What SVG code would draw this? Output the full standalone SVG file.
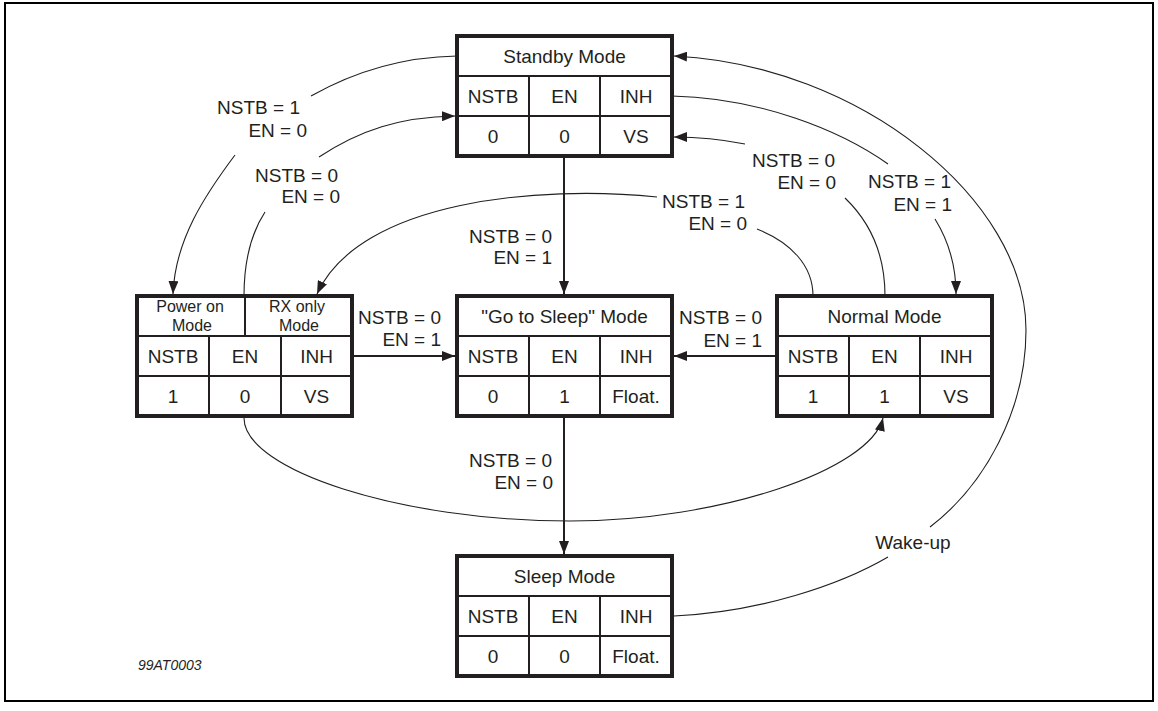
<svg xmlns="http://www.w3.org/2000/svg" width="1158" height="711" viewBox="0 0 1158 711">
<defs>
<style>
text{font-family:"Liberation Sans",Arial,sans-serif;font-size:19px;fill:#231f20}
.c{text-anchor:middle}
.e{text-anchor:end}
.s{font-size:16px}
.box{fill:#fff;stroke:#231f20;stroke-width:4}
.in{stroke:#231f20;stroke-width:2;fill:none}
.cv{fill:none;stroke:#231f20;stroke-width:1.1}
.st{fill:none;stroke:#231f20;stroke-width:2}
</style>
<marker id="ah" markerUnits="userSpaceOnUse" markerWidth="13" markerHeight="10" refX="13" refY="5" orient="auto">
<path d="M0,0 L13,5 L0,10 z" fill="#231f20"/>
</marker>
</defs>
<rect x="0" y="0" width="1158" height="711" fill="#fff"/>
<rect x="5" y="3" width="1148" height="698" fill="none" stroke="#000" stroke-width="2"/>

<g id="connectors">
<path class="cv" d="M457 56 C400 57,350 74,311 96"/>
<path class="cv" d="M235 155 C205 195,175 240,173 294" marker-end="url(#ah)"/>
<path class="cv" d="M244 296 C244 265,250 235,265 212"/>
<path class="cv" d="M319 157 C360 130,400 117,455 116" marker-end="url(#ah)"/>
<line class="st" x1="564" y1="158" x2="564" y2="294" marker-end="url(#ah)"/>
<path class="cv" d="M813 296 C813 265,790 242,757 229"/>
<path class="cv" d="M657 197 C540 185,360 200,317 294" marker-end="url(#ah)"/>
<path class="cv" d="M885 296 C885 255,870 222,845 198"/>
<path class="cv" d="M745 144 C725 140,700 137,674 137" marker-end="url(#ah)"/>
<path class="cv" d="M672 96 C760 98,840 130,888 164"/>
<path class="cv" d="M935 219 C948 240,956 265,956 294" marker-end="url(#ah)"/>
<line class="st" x1="354" y1="356" x2="455" y2="356" marker-end="url(#ah)"/>
<line class="st" x1="775" y1="356" x2="674" y2="356" marker-end="url(#ah)"/>
<line class="st" x1="564" y1="418" x2="564" y2="554" marker-end="url(#ah)"/>
<path class="cv" d="M244 418 C244 470,400 521,570 521 C720 521,870 470,883 418" marker-end="url(#ah)"/>
<path class="cv" d="M674 616 C760 612,840 585,888 557"/>
<path class="cv" d="M930 527 C985 485,1026 410,1026 330 C1026 200,860 65,674 56" marker-end="url(#ah)"/>
</g>

<g id="labels">
<text class="e" x="300" y="114">NSTB = 1</text>
<text class="e" x="307" y="137">EN = 0</text>
<text class="e" x="338" y="182">NSTB = 0</text>
<text class="e" x="340" y="203">EN = 0</text>
<text class="e" x="552" y="243">NSTB = 0</text>
<text class="e" x="552" y="264">EN = 1</text>
<text class="e" x="745" y="208">NSTB = 1</text>
<text class="e" x="747" y="230">EN = 0</text>
<text class="e" x="835" y="167">NSTB = 0</text>
<text class="e" x="836" y="189">EN = 0</text>
<text class="e" x="951" y="188">NSTB = 1</text>
<text class="e" x="952" y="211">EN = 1</text>
<text class="e" x="441" y="324">NSTB = 0</text>
<text class="e" x="441" y="346">EN = 1</text>
<text class="e" x="762" y="324">NSTB = 0</text>
<text class="e" x="762" y="347">EN = 1</text>
<text class="e" x="552" y="467">NSTB = 0</text>
<text class="e" x="553" y="489">EN = 0</text>
<text class="c" x="913" y="549">Wake-up</text>
<text x="138" y="670" style="font-size:14px;font-style:italic">99AT0003</text>
</g>

<g id="standby">
<rect class="box" x="457" y="36" width="215" height="120"/>
<path class="in" d="M457 76H672M457 116H672M529 76V156M600 76V156"/>
<text class="c" x="564.5" y="63">Standby Mode</text>
<text class="c" x="493" y="103">NSTB</text><text class="c" x="564.5" y="103">EN</text><text class="c" x="636" y="103">INH</text>
<text class="c" x="493" y="143">0</text><text class="c" x="564.5" y="143">0</text><text class="c" x="636" y="143">VS</text>
</g>

<g id="poweron">
<rect class="box" x="137" y="296" width="215" height="120"/>
<path class="in" d="M137 336H352M137 376H352M209 336V416M281 336V416M245 296V336"/>
<text class="c s" x="190" y="312">Power on</text>
<text class="c s" x="192" y="331">Mode</text>
<text class="c s" x="297" y="312">RX only</text>
<text class="c s" x="299" y="331">Mode</text>
<text class="c" x="173" y="363">NSTB</text><text class="c" x="245" y="363">EN</text><text class="c" x="316.5" y="363">INH</text>
<text class="c" x="173" y="403">1</text><text class="c" x="245" y="403">0</text><text class="c" x="316.5" y="403">VS</text>
</g>

<g id="gotosleep">
<rect class="box" x="457" y="296" width="215" height="120"/>
<path class="in" d="M457 336H672M457 376H672M529 336V416M600 336V416"/>
<text class="c" x="564.5" y="323">"Go to Sleep" Mode</text>
<text class="c" x="493" y="363">NSTB</text><text class="c" x="564.5" y="363">EN</text><text class="c" x="636" y="363">INH</text>
<text class="c" x="493" y="403">0</text><text class="c" x="564.5" y="403">1</text><text class="c" x="636" y="403">Float.</text>
</g>

<g id="normal">
<rect class="box" x="777" y="296" width="215" height="120"/>
<path class="in" d="M777 336H992M777 376H992M849 336V416M920 336V416"/>
<text class="c" x="884.5" y="323">Normal Mode</text>
<text class="c" x="813" y="363">NSTB</text><text class="c" x="884.5" y="363">EN</text><text class="c" x="956" y="363">INH</text>
<text class="c" x="813" y="403">1</text><text class="c" x="884.5" y="403">1</text><text class="c" x="956" y="403">VS</text>
</g>

<g id="sleep">
<rect class="box" x="457" y="556" width="215" height="120"/>
<path class="in" d="M457 596H672M457 636H672M529 596V676M600 596V676"/>
<text class="c" x="564.5" y="583">Sleep Mode</text>
<text class="c" x="493" y="623">NSTB</text><text class="c" x="564.5" y="623">EN</text><text class="c" x="636" y="623">INH</text>
<text class="c" x="493" y="663">0</text><text class="c" x="564.5" y="663">0</text><text class="c" x="636" y="663">Float.</text>
</g>
</svg>
